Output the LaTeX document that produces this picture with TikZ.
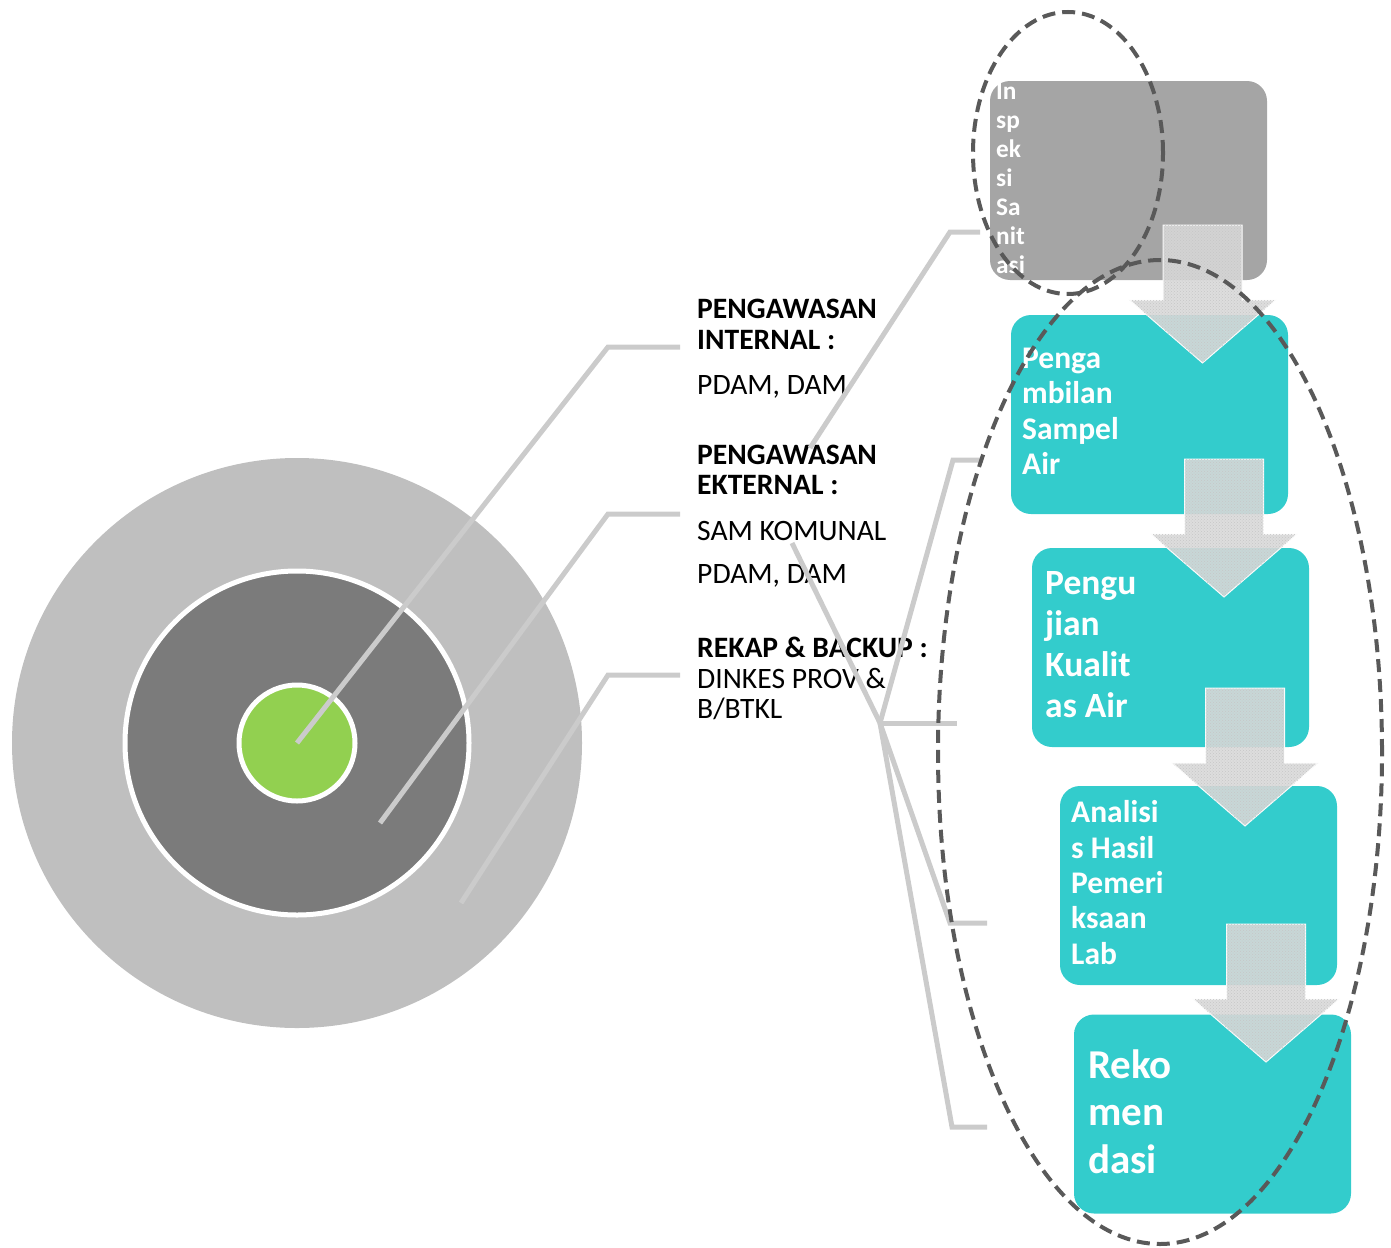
\documentclass[tikz,border=0pt]{standalone}
\usepackage{fontspec}
\setmainfont{Carlito}
\usetikzlibrary{patterns,shapes.geometric}

\definecolor{ringouter}{HTML}{BFBFBF}
\definecolor{ringmid}{HTML}{7B7B7B}
\definecolor{corefill}{HTML}{92D050}
\definecolor{linkgray}{HTML}{CBCBCB}
\definecolor{cardgray}{HTML}{A5A5A5}
\definecolor{cardteal}{HTML}{33CCCC}
\definecolor{dashgray}{HTML}{595959}
\definecolor{arrowgray}{HTML}{D9D9D9}
\definecolor{arrowdots}{HTML}{C6C6C6}

\tikzset{
  ring/.style={circle, inner sep=0pt, outer sep=0pt},
  link/.style={draw=linkgray, line width=5pt},
  card/.style={rounded corners=20pt, inner sep=0pt, outer sep=0pt,
    minimum width=277pt, minimum height=199pt},
  % multi-line step texts: anchored at the baseline of their last line
  cardtext/.style={text=white, anchor=base west, align=left, inner sep=0pt},
  lbl/.style={anchor=base west, inner sep=0pt, font=\fontsize{29.6}{31}\selectfont},
  lblb/.style={lbl, font=\fontsize{29.6}{31}\selectfont\bfseries},
  hoop/.style={ellipse, draw=dashgray, line width=4pt, dash pattern=on 13pt off 7pt,
    inner sep=0pt},
  downarrow/.pic={
    \path[fill=arrowgray, fill opacity=0.9, draw=white!92!arrowgray, line width=1pt]
      (-39.5,0) -- (39.5,0) -- (39.5,75) -- (73,75) -- (0,138) -- (-73,75) -- (-39.5,75) -- cycle;
    \path[pattern=crosshatch dots, pattern color=arrowdots]
      (-39.5,0) -- (39.5,0) -- (39.5,75) -- (73,75) -- (0,138) -- (-73,75) -- (-39.5,75) -- cycle;
  }
}

\begin{document}
\begin{tikzpicture}[x=1pt,y=-1pt]
\useasboundingbox (0,0) rectangle (1391,1247);

% target rings
\node[ring, fill=ringouter, minimum size=570pt] (outer) at (297,743) {};
\node[ring, fill=ringmid, draw=white, line width=5pt, minimum size=344pt] (middle) at (297,743) {};
\node[ring, fill=corefill, draw=white, line width=5pt, minimum size=116pt] (core) at (297,743) {};

% labels of the rings
\node[lblb] (t1a) at (697,318) {PENGAWASAN};
\node[lblb] (t1b) at (697,349) {INTERNAL :};
\node[lbl]  (t1c) at (697,394) {PDAM, DAM};
\node[lblb] (t2a) at (697,464) {PENGAWASAN};
\node[lblb] (t2b) at (697,494) {EKTERNAL :};
\node[lbl]  (t2c) at (697,540) {SAM KOMUNAL};
\node[lbl]  (t2d) at (697,583) {PDAM, DAM};
\node[lblb] (t3a) at (697,657) {REKAP \& BACKUP :};
\node[lbl]  (t3b) at (697,688) {DINKES PROV \&};
\node[lbl]  (t3c) at (697,718) {B/BTKL};

% leader lines from the rings to the labels
\coordinate (s2) at (380,823);
\coordinate (s3) at (461,903);
\coordinate (k1) at (608,347);
\coordinate (k2) at (608,514);
\coordinate (k3) at (608,675);
\coordinate (e1) at (680,347);
\coordinate (e2) at (680,514);
\coordinate (e3) at (680,675);
\draw[link] (core.center) -- (k1) -- (e1);
\draw[link] (s2) -- (k2) -- (e2);
\draw[link] (s3) -- (k3) -- (e3);

% bracket towards the process steps
\coordinate (hub) at (880,723);
\coordinate (a0) at (810,448);
\coordinate (a1) at (950,232);
\coordinate (a2) at (980,232);
\coordinate (b0) at (792,543);
\coordinate (p1) at (953,460);
\coordinate (p2) at (983,460);
\coordinate (q2) at (957,723);
\coordinate (r1) at (950,923);
\coordinate (r2) at (987,923);
\coordinate (u1) at (952,1127);
\coordinate (u2) at (987,1127);
\draw[link] (a0) -- (a1) -- (a2);
\draw[link] (b0) -- (hub);
\draw[link] (hub) -- (p1) -- (p2);
\draw[link] (hub) -- (q2);
\draw[link] (hub) -- (r1) -- (r2);
\draw[link] (hub) -- (u1) -- (u2);

% process steps
\node[card, fill=cardgray] (inspeksi) at (1128.5,180.5) {};
\node[card, fill=cardteal] (sampel) at (1149.5,414.5) {};
\node[card, fill=cardteal] (uji) at (1170.5,647.5) {};
\node[card, fill=cardteal] (analisis) at (1198.5,885.5) {};
\node[card, fill=cardteal] (rekom) at (1212.5,1114) {};

\node[cardtext, font=\fontsize{25.3}{29}\selectfont\bfseries] (inspeksiT) at (996,273)
  {In\\sp\\ek\\si\\Sa\\nit\\asi};
\node[cardtext, font=\fontsize{31.5}{35.5}\selectfont\bfseries] (sampelT) at (1022,474.5)
  {Penga\\mbilan\\Sampel\\Air};
\node[cardtext, font=\fontsize{35.5}{40.7}\selectfont\bfseries] (ujiT) at (1045,717)
  {Pengu\\jian\\Kualit\\as Air};
\node[cardtext, font=\fontsize{31.5}{35.3}\selectfont\bfseries] (analisisT) at (1071,964)
  {Analisi\\s Hasil\\Pemeri\\ksaan\\Lab};
\node[cardtext, font=\fontsize{41}{47.5}\selectfont\bfseries] (rekomT) at (1088,1173)
  {Reko\\men\\dasi};

% flow arrows between the steps
\pic (arrA) at (1202.5,225) {downarrow};
\pic (arrB) at (1224,459) {downarrow};
\pic (arrC) at (1245,688) {downarrow};
\pic (arrD) at (1266,924) {downarrow};

% dashed groupings
\node[hoop, minimum width=190pt, minimum height=282pt] (groupA) at (1068,153) {};
\node[hoop, minimum width=444pt, minimum height=984pt] (groupB) at (1160,752) {};
\end{tikzpicture}
\end{document}
